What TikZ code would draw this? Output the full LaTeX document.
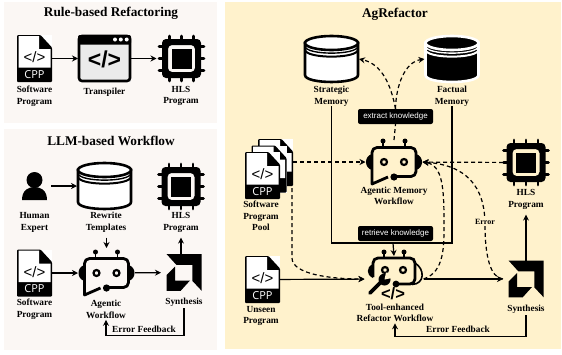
\documentclass[tikz,border=0pt]{standalone}
\usepackage{fontspec}
\usetikzlibrary{arrows.meta}
\setmainfont{Liberation Serif}
\setsansfont{Liberation Sans}
\newfontfamily\cppfont{Open Sans}
\definecolor{panelA}{HTML}{FBF7F4}
\definecolor{panelB}{HTML}{FFF2CC}
\tikzset{
    panel/.style={fill=#1},
    icon/.style 2 args={minimum width=#1pt,minimum height=#2pt,inner sep=0pt,outer sep=0pt},
    title/.style={font=\fontsize{13.3}{15}\selectfont\bfseries,inner sep=0pt},
    lbl/.style={font=\fontsize{9.3}{11.6}\selectfont\bfseries,align=center,inner sep=0pt},
    pill/.style={fill=black,text=white,rounded corners=2pt,minimum width=75pt,minimum height=15pt,inner sep=0pt,font=\sffamily\fontsize{8}{9}\selectfont},
    flow/.style={->,line width=1.2pt},
    wire/.style={line width=1.2pt},
    soft/.style={->,line width=1.2pt,dash pattern=on 4pt off 3pt},
    softline/.style={line width=1.2pt,dash pattern=on 4pt off 3pt},
    pics/filebody/.style={code={
        \fill[white] (-17.5,-23.5) rectangle (17.5,23.5);
        \fill[black,rounded corners=1pt] (-17.5,-23.5) -- (6,-23.5) -- (17.5,-11) -- (17.5,23.5) -- (-17.5,23.5) -- cycle;
        \fill[white] (-15.8,-22.3) -- (4.5,-22.3) -- (4.5,-9.5) -- (16,-9.5) -- (16,9) -- (-15.8,9) -- cycle;
    }},
    pics/cppfile/.style={code={
        \pic {filebody};
        \node[inner sep=0pt,font=\sffamily\fontsize{15}{15}\selectfont] at (0,-1) {</>};
        \node[inner sep=0pt,text=white,font=\cppfont\fontsize{11}{11}\selectfont] at (0,16) {CPP};
    }},
    pics/filepool/.style={code={
        \pic at (6,-6.5) {filebody};
        \pic at (-0.5,0) {filebody};
        \pic at (-7,6.5) {cppfile};
    }},
    pics/browser/.style={code={
        \fill[black!8] (-26,-15) rectangle (26,23);
        \draw[line width=2.6pt,rounded corners=3pt] (-25.5,-22.5) rectangle (25.5,22.5);
        \fill[black,rounded corners=2pt] (-26.5,-23.5) rectangle (26.5,-14);
        \foreach \dotx in {10.5,16.3,22.2}
            \fill[white] (\dotx,-19) circle (2pt);
        \node[inner sep=0pt,font=\sffamily\bfseries\fontsize{23}{23}\selectfont] at (0,1) {</>};
    }},
    pics/chip/.style={code={
        \foreach \off in {-12,0,12} {
            \draw[line width=2.8pt,line cap=round] (\off,-22.5) -- (\off,-18) (\off,22.5) -- (\off,18);
            \draw[line width=2.8pt,line cap=round] (-22.5,\off) -- (-18,\off) (22.5,\off) -- (18,\off);
        }
        \fill[even odd rule,rounded corners=4pt] (-19.5,-19.5) rectangle (19.5,19.5) (-13.5,-13.5) rectangle (13.5,13.5);
        \fill (-10,-10) rectangle (10,10);
    }},
    pics/cylinder/.style 2 args={code={
        \filldraw[fill=#1,draw=#2,line width=2.6pt] (-26.5,-16) -- (-26.5,16) .. controls (-26.5,25.3) and (26.5,25.3) .. (26.5,16) -- (26.5,-16) -- cycle;
        \filldraw[fill=#1,draw=#2,line width=2.6pt] (0,-16) circle [x radius=26.5pt,y radius=7pt];
        \draw[#2,line width=1.4pt] (-26.5,-13) .. controls (-26.5,-3.5) and (26.5,-3.5) .. (26.5,-13);
        \draw[#2,line width=2pt] (-26.5,-9.5) .. controls (-26.5,0) and (26.5,0) .. (26.5,-9.5);
    }},
    pics/person/.style={code={
        \fill (0,-6) circle (8pt);
        \fill (-12.5,14) .. controls (-12.5,4) and (-6,1) .. (0,1) .. controls (6,1) and (12.5,4) .. (12.5,14) -- cycle;
    }},
    pics/robot/.style={code={
        \draw[line width=2.8pt,line join=round] (-6,15) -- (-22,22) [rounded corners=5pt] -- (-22,-14.5) -- (22,-14.5) -- (22,14.5) -- (0,14.5);
        \fill (0,15) circle (3.6pt);
        \draw[line width=2.2pt] (-10,0) circle (3pt) (10,0) circle (3pt);
        \draw[line width=1.6pt] (-11,-14) -- (-11,-20) (11,-14) -- (11,-20);
        \fill (-11,-21) circle (2.5pt) (11,-21) circle (2.5pt);
        \fill (-22,-8) .. controls (-30,-6) and (-30,6) .. (-22,8) -- cycle;
        \fill (22,-8) .. controls (30,-6) and (30,6) .. (22,8) -- cycle;
    }},
    pics/toolrobot/.style={code={
        \draw[line width=2.8pt,rounded corners=5pt] (-21,-2) -- (-21,-21) -- (21,-21) -- (21,5) -- (2,5);
        \fill (2,5) circle (3.4pt);
        \draw[line width=2.2pt] (-9,-9) circle (3pt) (9,-9) circle (3pt);
        \draw[line width=1.6pt] (-10,-21) -- (-10,-26) (10,-21) -- (10,-26);
        \fill (-10,-27) circle (2.5pt) (10,-27) circle (2.5pt);
        \fill (-21,-15) .. controls (-28,-12) and (-28,-4) .. (-21,-1) -- cycle;
        \draw[line width=1.6pt] (21,-16) .. controls (31,-10) and (31,5) .. (18,5.5);
        \draw[line width=3.8pt,line cap=round] (-24,14) -- (-12,2);
        \fill (-9.5,0.5) circle (6pt);
        \fill[panelB] (-9.5,0.5) -- (-8,-6.5) -- (-2,-6.5) -- (-2,-1) -- cycle;
        \node[inner sep=0pt,font=\sffamily\bfseries\fontsize{16.5}{16.5}\selectfont] at (-1,14.5) {</>};
    }},
    pics/amdlogo/.style={code={
        \fill (-17.3,-18.3) -- (17.7,-18.3) -- (17.7,18.3) -- (8.3,8.3) -- (8.3,-7.7) -- (-7.7,-7.7) -- cycle;
        \fill (-9,-6) -- (-9,8) -- (6,8) -- (-3.3,18.3) -- (-17.3,18.3) -- (-17.3,2.3) -- cycle;
    }},
}
\begin{document}
\begin{tikzpicture}[x=1pt,y=-1pt,>={Stealth[length=6pt,width=6pt]}]
            \useasboundingbox (0,0) rectangle (562,354);
            \fill[panel=panelA] (4,2) rectangle (217,123);
            \fill[panel=panelA] (4,129) rectangle (217,350);
            \fill[panel=panelB] (225,2) rectangle (561,349);

            \node[title] (ruletitle) at (111,13) {Rule-based Refactoring};
            \node[icon={35}{47}] (softA) at (34.5,58.5) {};
            \node[icon={53}{47},right of=softA,node distance=70pt] (transpiler) {};
            \node[icon={50}{46},right of=transpiler,node distance=77pt] (chipA) {};
            \pic at (softA) {cppfile};
            \pic at (transpiler) {browser};
            \pic at (chipA) {chip};
            \node[lbl] (softAlbl) at (34.5,96) {Software\\Program};
            \node[lbl] (transpilerlbl) at (104.5,92) {Transpiler};
            \node[lbl] (chipAlbl) at (181,96) {HLS\\Program};
            \draw[flow] (softA) -- (transpiler);
            \draw[flow] (transpiler) -- (chipA);

            \node[title] (llmtitle) at (111,141) {LLM-based Workflow};
            \node[icon={33}{28}] (expert) at (34.5,186) {};
            \node[icon={55}{46},right of=expert,node distance=70pt] (templates) {};
            \node[icon={46}{46}] (chipB) at (181,186.5) {};
            \node[icon={35}{47}] (softB) at (34.5,273) {};
            \node[icon={57}{44},right of=softB,node distance=72pt] (agentA) {};
            \node[icon={46}{36}] (synthA) at (184,272.5) {};
            \pic at (expert) {person};
            \pic at (templates) {cylinder={white}{black}};
            \pic at (chipB) {chip};
            \pic at (softB) {cppfile};
            \pic at (agentA) {robot};
            \pic at (synthA) {amdlogo};
            \node[lbl] (expertlbl) at (34.5,222.5) {Human\\Expert};
            \node[lbl] (templateslbl) at (106,222.5) {Rewrite\\Templates};
            \node[lbl] (chipBlbl) at (181,222.5) {HLS\\Program};
            \node[lbl] (softBlbl) at (34.5,309.5) {Software\\Program};
            \node[lbl] (agentAlbl) at (106,309.5) {Agentic\\Workflow};
            \node[lbl] (synthAlbl) at (184,302) {Synthesis};
            \draw[flow] (expert) -- (templates);
            \draw[flow,shorten <=5pt,shorten >=3pt] (templateslbl.south -| agentA) -- (agentA.north);
            \draw[flow] (softB) -- (agentA);
            \draw[flow] (agentA) -- (synthA);
            \draw[flow,shorten >=5pt] (synthA.north -| chipBlbl.south) -- (chipBlbl.south);
            \draw[flow,shorten <=2pt,shorten >=1pt] (synthAlbl.south) -- ++(0,29) -| (agentAlbl.south);
            \node[lbl] (errorA) at (144,329) {Error Feedback};

            \node[title] (agtitle) at (395,14) {AgRefactor};
            \node[icon={55}{48}] (strategic) at (331.5,59) {};
            \node[icon={55}{48}] (factual) at (452,59) {};
            \node[icon={47}{60}] (pool) at (269.5,169) {};
            \node[icon={57}{44}] (memflow) at (394,162) {};
            \node[icon={46}{46}] (chipC) at (526,162.5) {};
            \node[icon={35}{47}] (unseen) at (262.5,279.5) {};
            \node[icon={59}{46}] (toolflow) at (394,279) {};
            \node[icon={46}{37},right of=toolflow,node distance=132pt] (synthB) {};
            \pic at (strategic) {cylinder={white}{black}};
            \pic at (factual) {cylinder={black}{white}};
            \pic at (pool) {filepool};
            \pic at (memflow) {robot};
            \pic at (chipC) {chip};
            \pic at (unseen) {cppfile};
            \pic at (toolflow) {toolrobot};
            \pic at (synthB) {amdlogo};
            \node[lbl] (strategiclbl) at (331.5,96) {Strategic\\Memory};
            \node[lbl] (factuallbl) at (452,96) {Factual\\Memory};
            \node[lbl] (poollbl) at (261,216) {Software\\Program\\Pool};
            \node[lbl] (memflowlbl) at (394,196) {Agentic Memory\\Workflow};
            \node[lbl] (chipClbl) at (526,199.5) {HLS\\Program};
            \node[lbl] (unseenlbl) at (261,316) {Unseen\\Program};
            \node[lbl] (toolflowlbl) at (395,313) {Tool-enhanced\\Refactor Workflow};
            \node[lbl] (synthBlbl) at (526,309) {Synthesis};
            \node[pill] (extract) at (395.5,116.5) {extract knowledge};
            \node[pill] (retrieve) at (395.5,233.5) {retrieve knowledge};
            \coordinate (junction) at (393,243);
            \coordinate (poolout) at (292,188);

            \draw[wire] (strategiclbl.south) |- (junction) -| (factuallbl.south);
            \draw[flow] (junction) -- (toolflow.north);
            \draw[softline] (memflow.north) -- (extract.south);
            \draw[soft] (extract.north) .. controls (391,85) and (382,64) .. (strategic.east);
            \draw[soft] (extract.north) .. controls (396,85) and (405,62) .. (factual.west);
            \draw[soft] (pool.east |- memflow) -- (memflow);
            \draw[soft] (chipC) -- (memflow);
            \draw[soft] (poolout) -- (292,258) .. controls (292,274) and (330,279) .. (toolflow.west);
            \draw[soft] (toolflow.east) .. controls (445,272) and (444,245) .. (444,222) .. controls (444,190) and (443,165) .. (memflow.east);
            \draw[soft] (synthB.west) .. controls (490,278) and (485,255) .. (485,225) .. controls (485,185) and (465,165) .. (memflow.east);
            \node[lbl,fill=panelB,inner sep=1pt,font=\fontsize{8}{9}\selectfont\bfseries] (errorlbl) at (485,222) {Error};
            \draw[flow] (unseen) -- (toolflow);
            \draw[flow] (toolflow) -- (synthB);
            \draw[flow,shorten >=5pt] (synthB.north -| chipClbl.south) -- (chipClbl.south);
            \draw[flow,shorten <=2pt,shorten >=1pt] (synthBlbl.south) -- ++(0,23) -| (toolflowlbl.south);
            \node[lbl] (errorB) at (458,329) {Error Feedback};
        \end{tikzpicture}
\end{document}
